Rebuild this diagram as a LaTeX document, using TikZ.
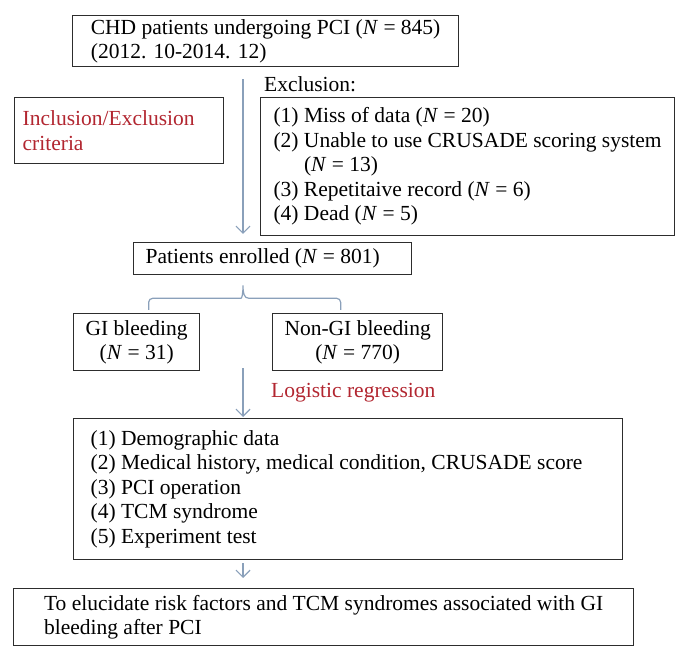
\documentclass[tikz,border=0pt]{standalone}
\usepackage{fontspec}
\setmainfont{Liberation Serif}
\usetikzlibrary{arrows.meta}

\definecolor{flowblue}{RGB}{138,160,186}
\definecolor{critred}{RGB}{178,38,48}
\definecolor{boxgray}{RGB}{45,45,45}
\newcommand{\Nn}{\textit{N}}

\tikzset{
  box/.style={draw=boxgray, line width=1.3pt, anchor=north west, inner xsep=6pt, inner ysep=0pt,
    align=left, font=\fontsize{21.5}{24.5}\selectfont},
  padbox/.style={box, align=flush left},
  plain/.style={anchor=west, inner sep=0pt, font=\fontsize{21.5}{24.5}\selectfont},
  flow/.style={draw=flowblue, line width=1.2pt, -{Straight Barb[length=7pt,width=14pt]}},
  brace/.style={draw=flowblue, line width=1.2pt},
}

\begin{document}
\begin{tikzpicture}[x=1pt, y=-1pt]
    \useasboundingbox (0, 0) rectangle (689, 660);

    % Boxes
    \node[box, minimum width=386, minimum height=51] (chd) at (72, 15)
      {CHD patients undergoing PCI (\Nn{} = 845)\\(2012. 10-2014. 12)};
    \node[plain] (exlabel) at (264, 84) {Exclusion:};
    \node[padbox, text=critred, inner xsep=8pt, text width=193pt, minimum height=66] (incl) at (14, 97)
      {Inclusion/Exclusion\\criteria};
    \node[box, minimum width=414, minimum height=138] (excl) at (260, 97)
      {(1) Miss of data (\Nn{} = 20)\\
       (2) Unable to use CRUSADE scoring system\\
       \phantom{(2) }(\Nn{} = 13)\\
       (3) Repetitaive record (\Nn{} = 6)\\
       (4) Dead (\Nn{} = 5)};
    \node[padbox, inner xsep=12pt, text width=254pt, minimum height=32] (enrolled) at (133, 242)
      {Patients enrolled (\Nn{} = 801)};
    \node[box, align=center, minimum width=126, minimum height=57] (gi) at (73, 313)
      {GI bleeding\\(\Nn{} = 31)};
    \node[box, align=center, minimum width=170, minimum height=57] (nongi) at (272, 313)
      {Non-GI bleeding\\(\Nn{} = 770)};
    \node[plain, text=critred] (logit) at (271, 393) {Logistic regression};
    \node[padbox, inner xsep=17pt, text width=515pt, minimum height=141] (factors) at (73, 418)
      {(1) Demographic data\\
       (2) Medical history, medical condition, CRUSADE score\\
       (3) PCI operation\\
       (4) TCM syndrome\\
       (5) Experiment test};
    \node[box, minimum width=620, minimum height=57] (aim) at (13, 588)
      {To elucidate risk factors and TCM syndromes associated with GI\\bleeding after PCI};

    % Arrows
    \coordinate (spine) at (243, 0);
    \coordinate (tip) at ([yshift=-10pt]enrolled.south -| spine);
    \draw[flow] ([yshift=-12pt]chd.south -| spine) -- ([yshift=8pt]enrolled.north -| spine);
    \draw[brace] ([xshift=12pt,yshift=3pt]gi.north) [rounded corners=4pt] |- ([xshift=-6pt,yshift=-13pt]tip)
      [sharp corners] .. controls +(5, 0) and +(0, 8) .. (tip)
      .. controls +(0, 8) and +(-5, 0) .. ([xshift=6pt,yshift=-13pt]tip)
      [rounded corners=4pt] -| ([xshift=-17pt,yshift=3pt]nongi.north);
    \draw[flow] ([yshift=3pt]nongi.south -| spine) -- ([yshift=1pt]factors.north -| spine);
    \draw[flow] ([yshift=-3pt]factors.south -| spine) -- ([yshift=10pt]aim.north -| spine);
  \end{tikzpicture}
\end{document}
